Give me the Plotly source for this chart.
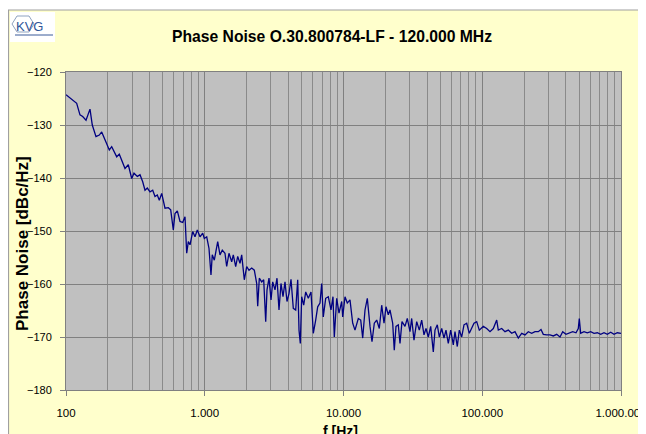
import plotly.graph_objects as go

# ---- data ----
freq_hz = [
    100, 112.9, 119.4, 126.1, 131.9, 139.4, 148.9, 154.7, 164.5, 173.8,
    180.8, 191.0, 205.2, 213.5, 221.8, 232.0, 242.2, 252.0, 266.2, 281.2,
    297.5, 309.1, 326.5, 341.5, 357.1, 371.0, 385.5, 403.1, 421.6, 438.0,
    455.0, 470.4, 489.5, 517.1, 546.2, 568.4, 593.5, 610.5, 634.3, 663.3,
    693.7, 720.7, 741.3, 761.3, 783.1, 819.0, 850.8, 883.9, 924.4, 966.5,
    992.7, 1033, 1073, 1109, 1133, 1172, 1199, 1240, 1288, 1338,
    1399, 1439, 1495, 1564, 1606, 1671, 1728, 1795, 1846, 1928,
    2006, 2084, 2180, 2276, 2368, 2408, 2473, 2573, 2660, 2750,
    2810, 2905, 3003, 3089, 3209, 3317, 3429, 3544, 3664, 3788,
    3915, 4048, 4184, 4347, 4524, 4677, 4779, 4883, 4997, 5166,
    5341, 5577, 5832, 6058, 6303, 6516, 6769, 6963, 7150, 7441,
    7770, 8126, 8400, 8584, 8933, 9280, 9706, 9870, 10252, 10651,
    11137, 11650, 12101, 12784, 13305, 13754, 14289, 14845, 15525, 16048,
    16672, 17350, 18113, 18849, 19582, 20243, 21029, 21628, 22620, 23228,
    23895, 24826, 25534, 26395, 27745, 28825, 30146, 31006, 32216, 33694,
    35180, 36609, 38034, 39316, 40847, 42508, 44381, 45654, 47431, 49030,
    51023, 53000, 54787, 56914, 59232, 61847, 63611, 66090, 68321, 71101,
    73870, 77263, 80662, 83946, 87198, 91201, 95215, 101766, 107677, 113722,
    120132, 127105, 130516, 138100, 145881, 154099, 163046, 172187, 181885, 192440,
    203278, 214727, 227190, 239990, 253512, 265102, 275423, 291419, 307832, 325171,
    344056, 363415, 380015, 401431, 424033, 448629, 473928, 492268, 500502, 512277,
    541128, 571604, 604817, 638915, 674900, 714052, 754251, 796637, 843061, 890431,
    940625, 983513, 1000000,
]
noise_dbc = [
    -124.3, -125.3, -125.9, -128.1, -128.4, -129.1, -127.0, -130.0, -132.2, -131.9,
    -131.3, -132.8, -134.7, -134.1, -135.0, -136.0, -135.5, -136.6, -138.2, -137.5,
    -140.1, -139.1, -139.7, -139.4, -140.7, -142.3, -141.9, -142.6, -142.3, -143.5,
    -143.2, -144.2, -142.9, -145.7, -145.6, -146.0, -149.8, -146.7, -146.2, -148.2,
    -148.4, -147.3, -154.2, -152.0, -152.6, -150.1, -151.1, -149.8, -151.1, -150.4,
    -151.4, -151.1, -153.3, -158.3, -154.5, -155.5, -153.9, -152.0, -154.5, -153.6,
    -154.2, -156.7, -154.2, -155.8, -154.5, -156.7, -154.8, -156.1, -154.5, -159.2,
    -156.7, -157.4, -157.0, -157.4, -159.9, -164.2, -158.9, -159.6, -159.2, -167.1,
    -161.1, -158.9, -163.0, -159.6, -161.1, -158.9, -164.9, -159.9, -162.4, -159.6,
    -163.3, -161.8, -159.1, -164.6, -164.9, -159.2, -168.7, -171.2, -162.4, -164.0,
    -161.5, -162.7, -161.5, -169.3, -166.8, -164.3, -163.6, -159.9, -166.2, -162.7,
    -162.4, -164.9, -162.4, -170.0, -162.7, -165.5, -163.3, -166.2, -162.4, -163.6,
    -163.0, -167.4, -168.7, -166.5, -166.8, -170.2, -164.9, -162.7, -168.0, -170.9,
    -167.4, -166.8, -168.4, -164.0, -167.4, -164.3, -165.8, -164.9, -167.4, -172.5,
    -168.0, -167.7, -171.2, -167.1, -168.0, -166.5, -169.0, -166.5, -170.6, -167.1,
    -168.7, -166.8, -169.6, -168.4, -170.0, -168.0, -172.8, -168.7, -167.7, -170.0,
    -168.4, -170.2, -168.7, -171.2, -168.7, -171.5, -169.0, -171.8, -168.7, -170.0,
    -167.7, -167.4, -169.3, -168.4, -167.4, -167.1, -168.7, -168.0, -168.4, -169.0,
    -168.4, -166.8, -168.7, -168.4, -169.0, -168.7, -169.3, -169.0, -170.2, -169.3,
    -169.6, -169.0, -169.3, -169.0, -169.0, -168.6, -169.5, -169.6, -169.6, -169.8,
    -169.5, -170.0, -169.0, -169.5, -169.2, -169.0, -169.2, -168.4, -166.5, -169.3,
    -169.0, -169.2, -169.0, -169.3, -169.2, -169.5, -169.2, -169.5, -169.1, -169.5,
    -169.2, -169.3, -169.3,
]
x_tick_vals = [100, 1000, 10000, 100000, 1000000]
x_tick_text = ["100", "1.000", "10.000", "100.000", "1.000.000"]
x_minor_vals = [m * d for d in (100, 1000, 10000, 100000) for m in range(2, 10)]
y_tick_vals = [-180, -170, -160, -150, -140, -130, -120]

title_text = "Phase Noise O.30.800784-LF - 120.000 MHz"
x_title = "f [Hz]"
y_title = "Phase Noise [dBc/Hz]"
logo_text = "KVG"

# ---- layout geometry (page pixels; the page body adds an 8px offset) ----
PAGE_W, PAGE_H = 646, 434
OFF = 8
W, H = PAGE_W - OFF, PAGE_H - OFF
L, R, T, B = 66, 621, 72, 390   # plot area in page pixels
FONT = "Liberation Sans, Arial, sans-serif"


def px(x):
    return (x - L) / (R - L)


def py(y):
    return (B - y) / (B - T)


fig = go.Figure()
fig.add_trace(go.Scatter(
    x=freq_hz, y=noise_dbc, mode="lines",
    line=dict(color="#000080", width=1.3),
    hoverinfo="x+y", showlegend=False,
))

shapes = [
    # white strip above the chart frame
    dict(type="rect", xref="paper", yref="paper", x0=px(0), x1=px(PAGE_W + 5), y0=py(10), y1=py(0),
         fillcolor="white", line=dict(width=0), layer="below"),
    # chart frame border
    dict(type="rect", xref="paper", yref="paper", x0=px(OFF + 0.5), x1=px(PAGE_W + 10), y0=py(PAGE_H + 10), y1=py(10),
         fillcolor="rgba(0,0,0,0)", line=dict(color="#a0a0a0", width=1.2), layer="below"),
    # logo box
    dict(type="rect", xref="paper", yref="paper", x0=px(10), x1=px(55), y0=py(42), y1=py(12),
         fillcolor="white", line=dict(width=0), layer="above"),
    # logo hexagon
    dict(type="path", xref="paper", yref="paper",
         path="M {},{} L {},{} L {},{} L {},{} L {},{} L {},{} Z".format(
             px(12), py(24), px(17), py(16), px(29), py(16), px(34), py(24), px(29), py(32), px(17), py(32)),
         line=dict(color="#8fa3c0", width=1), fillcolor="rgba(0,0,0,0)", layer="above"),
    # logo underline
    dict(type="line", xref="paper", yref="paper", x0=px(15), x1=px(53), y0=py(35), y1=py(35),
         line=dict(color="#3a5a99", width=1), layer="above"),
]

annotations = [
    dict(text=logo_text, xref="paper", yref="paper", x=px(14), y=py(27), xanchor="left", yanchor="middle",
         showarrow=False, font=dict(family=FONT, size=13, color="#2f5597")),
    dict(text="<b>" + title_text + "</b>", xref="paper", yref="paper", x=px(332), y=py(37),
         xanchor="center", yanchor="middle", showarrow=False, font=dict(family=FONT, size=15.7, color="black")),
    dict(text="<b>" + x_title + "</b>", xref="paper", yref="paper", x=px(340), y=py(421),
         xanchor="center", yanchor="top", showarrow=False, font=dict(family=FONT, size=14, color="black")),
    dict(text="<b>" + y_title + "</b>", xref="paper", yref="paper", x=px(22), y=py(244),
         xanchor="center", yanchor="middle", textangle=-90, showarrow=False,
         font=dict(family=FONT, size=17, color="black")),
]

fig.update_layout(
    width=W, height=H,
    margin=dict(l=L - OFF, r=W - (R - OFF), t=T - OFF, b=H - (B - OFF), pad=0, autoexpand=False),
    paper_bgcolor="#FFFFCC",
    plot_bgcolor="#C0C0C0",
    font=dict(family=FONT, size=11, color="black"),
    shapes=shapes,
    annotations=annotations,
    xaxis=dict(
        type="log", range=[2, 6], tickvals=x_tick_vals, ticktext=x_tick_text,
        ticks="outside", ticklen=5, tickcolor="#808080", ticklabelstandoff=7,
        ticklabeloverflow="allow", automargin=False,
        showgrid=True, gridcolor="#808080", gridwidth=1,
        minor=dict(tickvals=x_minor_vals, showgrid=True, gridcolor="#8a8a8a", gridwidth=1, ticks=""),
        showline=True, linecolor="#808080", linewidth=1, mirror=True,
        tickfont=dict(family=FONT, size=11.5, color="black"), zeroline=False,
    ),
    yaxis=dict(
        range=[-180, -120], tickvals=y_tick_vals, automargin=False,
        ticks="outside", ticklen=5, tickcolor="#808080", ticklabelstandoff=6,
        showgrid=True, gridcolor="#808080", gridwidth=1,
        showline=True, linecolor="#808080", linewidth=1, mirror=True,
        tickfont=dict(family=FONT, size=11, color="black"), zeroline=False,
    ),
)

fig.write_html("out.html")
